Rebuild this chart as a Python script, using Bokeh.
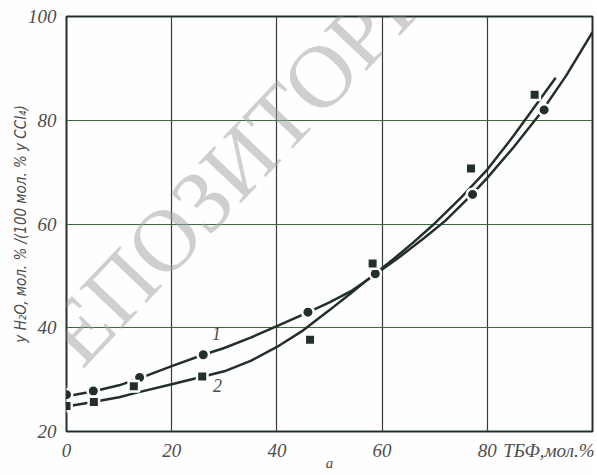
from bokeh.plotting import figure
from bokeh.models import Label, FixedTicker, Range1d
from bokeh.embed import file_html
from bokeh.resources import INLINE

# --- data ---
# series 1 (circles) measured points
pts1_x = [0, 5.1, 13.9, 26.0, 45.9, 58.7, 77.2, 90.8]
pts1_y = [27.1, 27.8, 30.4, 34.8, 43.0, 50.4, 65.7, 82.0]
# series 2 (squares) measured points
pts2_x = [0, 5.2, 12.8, 25.8, 46.3, 58.2, 76.9, 89.0]
pts2_y = [24.9, 25.7, 28.7, 30.6, 37.7, 52.4, 70.7, 84.9]
# smooth curve 1
curve1_x = [0, 5, 10, 14, 20, 26, 30, 35, 40, 46, 50, 54, 58, 63, 68, 72, 77, 80, 85, 90, 95, 100]
curve1_y = [26.8, 27.7, 28.9, 30.3, 32.6, 34.8, 36.1, 38.1, 40.3, 43.0, 44.9, 47.0, 49.8, 53.4, 57.3, 60.6, 65.6, 68.9, 74.8, 81.2, 88.6, 97.0]
# smooth curve 2
curve2_x = [0, 5, 10, 13, 20, 26, 30, 35, 40, 45, 50, 54, 58, 62, 66, 70, 75, 80, 85, 90, 93]
curve2_y = [24.8, 25.7, 26.6, 27.4, 29.1, 30.6, 31.6, 33.6, 36.3, 39.5, 43.4, 46.6, 49.9, 53.1, 56.5, 60.1, 65.1, 70.5, 77.0, 84.0, 88.2]

x_ticks = [0, 20, 40, 60, 80]
x_label_pos = 93
x_unit_label = "ТБФ,мол.%"
y_ticks = [20, 40, 60, 80, 100]

ink = "#23302a"
label_col = "#4d4d4d"
tick_font = "Liberation Sans Narrow"
paper = "#fefefe"

p = figure(width=594, height=475, output_backend="svg", toolbar_location=None,
           x_range=Range1d(0, 100), y_range=Range1d(20, 100),
           min_border_left=66, min_border_right=2, min_border_top=16, min_border_bottom=44)
p.background_fill_color = paper
p.border_fill_color = paper
p.outline_line_color = ink
p.outline_line_width = 2

p.xaxis.ticker = FixedTicker(ticks=x_ticks + [x_label_pos])
p.xgrid.ticker = FixedTicker(ticks=x_ticks)
p.yaxis.ticker = FixedTicker(ticks=y_ticks)
p.xaxis.major_label_overrides = {x_label_pos: x_unit_label}
for ax in (p.xaxis, p.yaxis):
    ax.axis_line_color = None
    ax.major_tick_line_color = None
    ax.minor_tick_line_color = None
    ax.major_label_text_font = tick_font
    ax.major_label_text_font_style = "italic"
    ax.major_label_text_font_size = "19px"
    ax.major_label_text_color = label_col
    ax.major_label_standoff = 4
p.xaxis.major_label_standoff = 2

p.xaxis.axis_label = "а"
p.xaxis.axis_label_text_font = tick_font
p.xaxis.axis_label_text_font_style = "italic"
p.xaxis.axis_label_text_font_size = "15px"
p.xaxis.axis_label_text_color = label_col
p.xaxis.axis_label_standoff = -9

p.yaxis.axis_label = "y H\u2082O, мол. % /(100 мол. % y CCl\u2084)"
p.yaxis.axis_label_text_font = "DejaVu Sans Condensed"
p.yaxis.axis_label_text_font_style = "italic"
p.yaxis.axis_label_text_font_size = "15px"
p.yaxis.axis_label_text_color = label_col
p.yaxis.axis_label_standoff = -5

p.xgrid.grid_line_color = "#3a3a3a"
p.xgrid.grid_line_width = 1.2
p.ygrid.grid_line_color = "#3d6a45"
p.ygrid.grid_line_width = 1.2

# watermark
p.add_layout(Label(x=-7.6, y=28.9, text="РЕПОЗИТОРИЙ", text_font="Liberation Serif",
                   text_font_size="89px", text_color="#a0a0a0", text_alpha=0.5,
                   angle=46.5, angle_units="deg", text_align="left", text_baseline="alphabetic"))

p.line(curve1_x, curve1_y, line_color=ink, line_width=2.5)
p.line(curve2_x, curve2_y, line_color=ink, line_width=2.5)
p.scatter(pts1_x, pts1_y, marker="circle", size=11.5, fill_color=ink,
          line_color=paper, line_width=2.5)
p.scatter(pts2_x, pts2_y, marker="square", size=10.5, fill_color=ink,
          line_color=paper, line_width=2.5)

p.add_layout(Label(x=28.5, y=38.9, text="1", text_font=tick_font, text_font_style="italic",
                   text_font_size="18px", text_color=label_col, text_align="center",
                   text_baseline="middle"))
p.add_layout(Label(x=28.7, y=28.9, text="2", text_font=tick_font, text_font_style="italic",
                   text_font_size="18px", text_color=label_col, text_align="center",
                   text_baseline="middle"))

open("out.html", "w").write(file_html(p, INLINE))
